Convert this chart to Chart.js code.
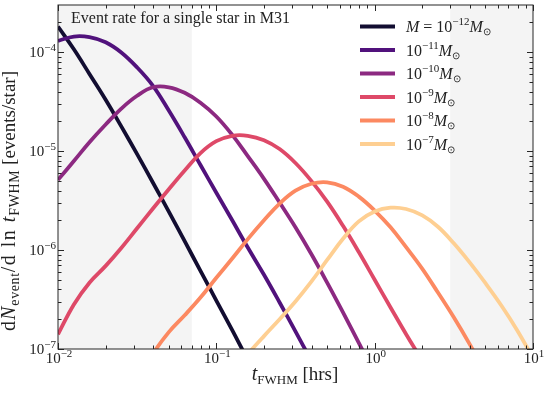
<!DOCTYPE html>
<html>
<head>
<meta charset="utf-8">
<script src="https://cdn.jsdelivr.net/npm/chart.js@4.4.1/dist/chart.umd.min.js"></script>
<style>
  html, body { margin: 0; padding: 0; background: #fff; }
  canvas { display: block; }
</style>
</head>
<body>
<canvas id="rateChart" width="549" height="393"></canvas>
<script>
// t_FWHM grid in hours (0.1 dex steps)
const tFWHM = [0.01, 0.0126, 0.0158, 0.02, 0.0251, 0.0316, 0.0398, 0.0501, 0.0631, 0.0794,
  0.1, 0.126, 0.158, 0.2, 0.251, 0.316, 0.398, 0.501, 0.631, 0.794,
  1, 1.26, 1.58, 2.0, 2.51, 3.16, 3.98, 5.01, 6.31, 7.94, 10];

// dN/dln t_FWHM per star, one array per lens mass (null = off the plot)
const rate1e12 = [1.82e-4, 1.07e-4, 6.03e-5, 3.31e-5, 1.78e-5, 9.33e-6, 4.79e-6, 2.45e-6, 1.23e-6, 6.17e-7,
  3.09e-7, 1.55e-7, 7.76e-8, 3.89e-8, null, null, null, null, null, null,
  null, null, null, null, null, null, null, null, null, null, null];
const rate1e11 = [1.30e-4, 1.44e-4, 1.42e-4, 1.26e-4, 9.93e-5, 7.01e-5, 4.57e-5, 2.57e-5, 1.38e-5, 7.24e-6,
  3.80e-6, 2.00e-6, 1.06e-6, 5.62e-7, 2.95e-7, 1.51e-7, 7.59e-8, null, null, null,
  null, null, null, null, null, null, null, null, null, null, null];
const rate1e10 = [5.13e-6, 7.94e-6, 1.23e-5, 1.86e-5, 2.69e-5, 3.63e-5, 4.42e-5, 4.42e-5, 3.89e-5, 3.09e-5,
  2.24e-5, 1.46e-5, 8.91e-6, 5.25e-6, 3.02e-6, 1.70e-6, 9.12e-7, 4.68e-7, 2.34e-7, 1.15e-7,
  5.62e-8, null, null, null, null, null, null, null, null, null, null];
const rate1e9 = [1.41e-7, 2.82e-7, 4.68e-7, 6.92e-7, 1.05e-6, 1.66e-6, 2.63e-6, 4.12e-6, 6.38e-6, 9.55e-6,
  1.26e-5, 1.43e-5, 1.43e-5, 1.29e-5, 1.05e-5, 7.59e-6, 5.01e-6, 3.09e-6, 1.76e-6, 9.55e-7,
  5.01e-7, 2.63e-7, 1.41e-7, 7.59e-8, null, null, null, null, null, null, null];
const rate1e8 = [null, null, null, null, null, 4.27e-8, 8.91e-8, 1.48e-7, 2.19e-7, 3.31e-7,
  5.25e-7, 8.22e-7, 1.29e-6, 2.00e-6, 2.95e-6, 3.98e-6, 4.68e-6, 4.84e-6, 4.37e-6, 3.47e-6,
  2.51e-6, 1.70e-6, 1.07e-6, 6.46e-7, 3.72e-7, 2.09e-7, 1.12e-7, 5.75e-8, null, null, null];
const rate1e7 = [null, null, null, null, null, null, null, null, null, null,
  null, 5.89e-8, 8.91e-8, 1.35e-7, 2.00e-7, 3.02e-7, 4.79e-7, 7.94e-7, 1.30e-6, 1.95e-6,
  2.45e-6, 2.68e-6, 2.60e-6, 2.24e-6, 1.72e-6, 1.17e-6, 7.50e-7, 4.62e-7, 2.75e-7, 1.55e-7, 8.13e-8];

const massExponents = ['\u221212', '\u221211', '\u221210', '\u22129', '\u22128', '\u22127'];
const lineColors = ['#120d31', '#51127c', '#8c2981', '#de4968', '#fc8961', '#fecf92'];

// axis tick decades and the shaded (unobservable) t ranges
const xDecades = [-2, -1, 0, 1];
const yDecades = [-7, -6, -5, -4];
const shadeLow = 0.07;
const shadeHigh = 3;

const titleText = 'Event rate for a single star in M31';

const serif = '"Liberation Serif", "Times New Roman", serif';
function font(size, italic) {
  return (italic ? 'italic ' : '') + size + 'px ' + serif;
}

// draw pieces of text in a row: [text, size, italic, dy, extra gap per char]
function runWidth(c, r) {
  c.font = font(r[1], r[2]);
  return c.measureText(r[0]).width + (r[4] || 0) * r[0].length;
}
function drawRuns(c, runs, x, y, align) {
  let w = 0;
  runs.forEach(r => { w += runWidth(c, r); });
  let cx = align === 'center' ? x - w / 2 : align === 'right' ? x - w : x;
  c.textAlign = 'left';
  c.textBaseline = 'alphabetic';
  runs.forEach(r => {
    c.font = font(r[1], r[2]);
    const gap = r[4] || 0;
    if (!gap) {
      c.fillText(r[0], cx, y + (r[3] || 0));
      cx += c.measureText(r[0]).width;
    } else {
      for (const ch of r[0]) {
        c.fillText(ch, cx, y + (r[3] || 0));
        cx += c.measureText(ch).width + gap;
      }
    }
  });
}

function powLabel(e) {
  return [['10', 15, false, 0], [e, 11, false, -6]];
}

const decorPlugin = {
  id: 'decor',
  beforeDatasetsDraw(chart) {
    const c = chart.ctx, a = chart.chartArea, xs = chart.scales.x;
    c.save();
    c.fillStyle = '#f4f4f4';
    const lo = xs.getPixelForValue(shadeLow);
    const hi = xs.getPixelForValue(shadeHigh);
    c.fillRect(a.left, a.top, lo - a.left, a.bottom - a.top);
    c.fillRect(hi, a.top, a.right - hi, a.bottom - a.top);
    c.restore();
  },
  afterDatasetsDraw(chart) {
    const c = chart.ctx, a = chart.chartArea, xs = chart.scales.x, ys = chart.scales.y;
    c.save();
    c.strokeStyle = '#262626';
    c.lineWidth = 1;
    c.strokeRect(a.left, a.top, a.right - a.left, a.bottom - a.top);

    // inward ticks on all four sides
    c.beginPath();
    for (let e = -2; e <= 1; e++) {
      for (let m = 1; m <= 9; m++) {
        const v = m * Math.pow(10, e);
        if (v > 10.001) break;
        const px = Math.round(xs.getPixelForValue(v)) + 0.5;
        const len = m === 1 ? 6 : 3.5;
        c.moveTo(px, a.bottom); c.lineTo(px, a.bottom - len);
        c.moveTo(px, a.top); c.lineTo(px, a.top + len);
      }
    }
    for (let e = -7; e <= -4; e++) {
      for (let m = 1; m <= 9; m++) {
        const v = m * Math.pow(10, e);
        if (v > 3e-4) break;
        const py = Math.round(ys.getPixelForValue(v)) + 0.5;
        const len = m === 1 ? 6 : 3.5;
        c.moveTo(a.left, py); c.lineTo(a.left + len, py);
        c.moveTo(a.right, py); c.lineTo(a.right - len, py);
      }
    }
    c.stroke();

    // tick labels
    c.fillStyle = '#222';
    xDecades.forEach(e => {
      const px = xs.getPixelForValue(Math.pow(10, e));
      drawRuns(c, powLabel(e < 0 ? '\u2212' + (-e) : String(e)), px + 1, a.bottom + 14, 'center');
    });
    yDecades.forEach(e => {
      const py = ys.getPixelForValue(Math.pow(10, e));
      drawRuns(c, powLabel('\u2212' + (-e)), a.left - 2, py + 5, 'right');
    });

    // axis titles
    drawRuns(c, [['t', 20, true], ['FWHM', 13, false, 4], [' [hrs]', 19, false]], 295, 380, 'center');
    c.save();
    c.translate(15, 201);
    c.rotate(-Math.PI / 2);
    drawRuns(c, [['d', 20, false, 0, 1], ['N', 20, true, 0, 1], ['event', 14, false, 4, 0.6], ['/d', 20, false, 0, 1.5],
      [' ln ', 20, false, 0, 1.5], ['t', 20, true, 0, 1], ['FWHM', 14, false, 4, 0.6],
      [' [events/star]', 19, false]], 0, 0, 'center');
    c.restore();

    // title inside the axes
    drawRuns(c, [[titleText, 16, false]], 71, 23, 'left');

    // legend
    const rowY = [26.5, 50, 73.5, 97, 120.5, 144];
    massExponents.forEach((ex, k) => {
      const y = rowY[k];
      c.strokeStyle = lineColors[k];
      c.lineWidth = 4;
      c.beginPath();
      c.moveTo(360, y); c.lineTo(395, y);
      c.stroke();
      const runs = [];
      if (k === 0) runs.push(['M', 16, true], [' = ', 16, false]);
      runs.push(['10', 16, false], [ex, 11, false, -7], ['M', 16, true], ['\u2299', 10, false, 3]);
      c.fillStyle = '#222';
      drawRuns(c, runs, 406, y + 5.5, 'left');
    });
    c.restore();
  }
};

const massSeries = [rate1e12, rate1e11, rate1e10, rate1e9, rate1e8, rate1e7];

const datasets = massSeries.map((vals, k) => ({
  label: '10^' + massExponents[k] + ' Msun',
  data: tFWHM.map((t, i) => ({ x: t, y: vals[i] })).filter(p => p.y !== null),
  borderColor: lineColors[k],
  borderWidth: 3.8,
  pointRadius: 0,
  tension: 0.4,
  fill: false,
  order: 5 - k
}));

const ctx = document.getElementById('rateChart').getContext('2d');
const rateChart = new Chart(ctx, {
  type: 'line',
  data: { datasets: datasets },
  options: {
    responsive: false,
    animation: false,
    layout: { padding: { left: 58, right: 16, top: 5, bottom: 44 } },
    scales: {
      x: { type: 'logarithmic', min: 0.01, max: 10, display: false },
      y: { type: 'logarithmic', min: 1e-7, max: 3e-4, display: false }
    },
    plugins: {
      legend: { display: false },
      tooltip: { enabled: false }
    }
  },
  plugins: [decorPlugin]
});
</script>
</body>
</html>
